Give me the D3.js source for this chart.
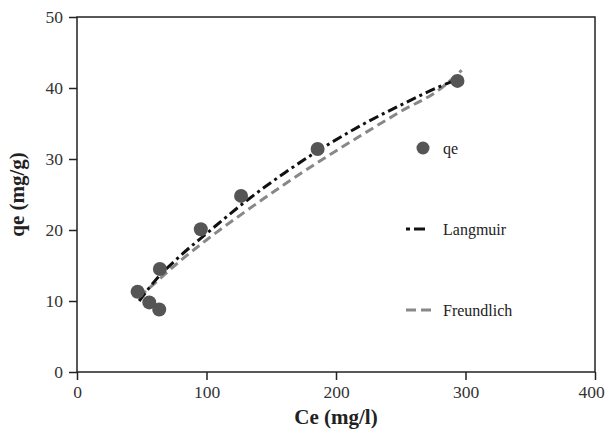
<!DOCTYPE html>
<html>
<head>
<meta charset="utf-8">
<script src="https://cdn.jsdelivr.net/npm/d3@7"></script>
<style>
  body { margin: 0; background: #fff; }
  text { font-family: "Liberation Serif", "Times New Roman", serif; }
</style>
</head>
<body>
<div id="chart"></div>
<script>
// measured points
var ceValues = [46.8, 55.8, 63.5, 64.0, 95.6, 126.7, 185.8, 293.8]
var qeValues = [11.3, 9.8, 8.8, 14.5, 20.1, 24.8, 31.4, 41.0]

// model curves
var langmuirCe = [48, 60, 80, 100, 130, 160, 190, 220, 250, 280, 295]
var langmuirQe = [10.0, 12.8, 16.4, 19.5, 24.0, 28.0, 31.6, 34.8, 37.6, 40.2, 41.3]
var freundlichCe = [48, 60, 80, 100, 130, 160, 190, 220, 250, 280, 297]
var freundlichQe = [10.6, 12.5, 15.7, 18.6, 22.6, 26.4, 30.0, 33.4, 36.7, 39.8, 42.5]

var xTicks = [0, 100, 200, 300, 400]
var yTicks = [0, 10, 20, 30, 40, 50]

var width = 607, height = 435
var margin = {left: 77, top: 17, right: 12, bottom: 63}

var svg = d3.select("#chart")
    .append("svg")
    .attr("width", width)
    .attr("height", height)

var x = d3.scaleLinear()
    .domain([0, 400])
    .range([margin.left, width - margin.right])
var y = d3.scaleLinear()
    .domain([0, 50])
    .range([height - margin.bottom, margin.top])

// frame
svg.append("rect")
    .attr("x", x(0))
    .attr("y", y(50))
    .attr("width", x(400) - x(0))
    .attr("height", y(0) - y(50))
    .attr("fill", "none")
    .attr("stroke", "#222")
    .attr("stroke-width", 1.5)

var xAxis = svg.append("g")
    .attr("transform", "translate(0," + y(0) + ")")
    .call(d3.axisBottom(x).tickValues(xTicks).tickSize(8).tickPadding(6))
var yAxis = svg.append("g")
    .attr("transform", "translate(" + x(0) + ",0)")
    .call(d3.axisLeft(y).tickValues(yTicks).tickSize(8).tickPadding(6))

;[xAxis, yAxis].forEach(function (g) {
    g.attr("font-family", null)
    g.select(".domain").remove()
    g.selectAll("line").attr("stroke", "#222").attr("stroke-width", 1.5)
    g.selectAll("text")
        .style("font-family", "'Liberation Serif', serif")
        .style("font-size", "17.5px")
        .attr("fill", "#333")
})
// keep the last label inside the page
xAxis.selectAll("text").filter(d => d === 400).attr("dx", "-4")

svg.append("text")
    .attr("x", x(200))
    .attr("y", 424)
    .attr("text-anchor", "middle")
    .style("font-size", "21px")
    .style("font-weight", "bold")
    .attr("fill", "#222")
    .text("Ce (mg/l)")

svg.append("text")
    .attr("transform", "translate(24," + y(25) + ") rotate(-90)")
    .attr("text-anchor", "middle")
    .style("font-size", "21px")
    .style("font-weight", "bold")
    .attr("fill", "#222")
    .text("qe (mg/g)")

var line = d3.line()
    .x(d => x(d[0]))
    .y(d => y(d[1]))
    .curve(d3.curveMonotoneX)

svg.append("path")
    .datum(freundlichCe.map((c, i) => [c, freundlichQe[i]]))
    .attr("d", line)
    .attr("fill", "none")
    .attr("stroke", "#888")
    .attr("stroke-width", 3)
    .attr("stroke-dasharray", "9,5")

svg.append("path")
    .datum(langmuirCe.map((c, i) => [c, langmuirQe[i]]))
    .attr("d", line)
    .attr("fill", "none")
    .attr("stroke", "#111")
    .attr("stroke-width", 3)
    .attr("stroke-dasharray", "10,4,3,4")

svg.selectAll(".pt")
    .data(ceValues)
    .join("circle")
    .attr("class", "pt")
    .attr("cx", d => x(d))
    .attr("cy", (d, i) => y(qeValues[i]))
    .attr("r", 7)
    .attr("fill", "#555")

// legend
var legend = svg.append("g")
legend.append("circle")
    .attr("cx", 423).attr("cy", 148).attr("r", 6.5)
    .attr("fill", "#555")
legend.append("line")
    .attr("x1", 406).attr("x2", 431).attr("y1", 229).attr("y2", 229)
    .attr("stroke", "#111").attr("stroke-width", 3)
    .attr("stroke-dasharray", "4,4,11,6")
legend.append("line")
    .attr("x1", 406).attr("x2", 431).attr("y1", 310).attr("y2", 310)
    .attr("stroke", "#888").attr("stroke-width", 3)
    .attr("stroke-dasharray", "10,5")

var legendLabels = ["qe", "Langmuir", "Freundlich"]
var legendY = [148, 229, 310]
legend.selectAll(".lab")
    .data(legendLabels)
    .join("text")
    .attr("class", "lab")
    .attr("x", 443)
    .attr("y", (d, i) => legendY[i])
    .attr("dy", "0.35em")
    .style("font-size", "16px")
    .attr("fill", "#222")
    .text(d => d)
</script>
</body>
</html>
